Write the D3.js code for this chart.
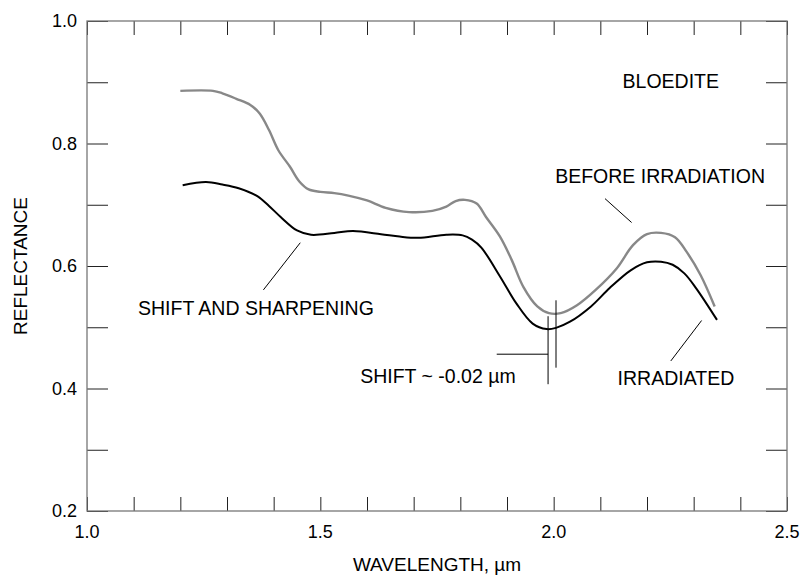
<!DOCTYPE html>
<html>
<head>
<script src="https://d3js.org/d3.v7.min.js"></script>
<style>
  body { margin: 0; background: #fff; }
  text { font-family: "Liberation Sans", Arial, Helvetica, sans-serif; fill: #000; }
</style>
</head>
<body>
<div id="chartContainer"></div>
<script>
// wavelength (um) and reflectance
var beforeWave = [1.20,1.27,1.29,1.32,1.35,1.37,1.39,1.41,1.435,1.455,1.475,1.50,1.53,1.56,1.60,1.64,1.69,1.74,1.77,1.79,1.81,1.835,1.855,1.885,1.91,1.935,1.965,1.99,2.015,2.05,2.09,2.135,2.17,2.20,2.23,2.26,2.285,2.315,2.345];
var beforeRefl = [0.886,0.886,0.882,0.873,0.863,0.849,0.822,0.789,0.762,0.738,0.725,0.721,0.719,0.715,0.707,0.695,0.688,0.690,0.697,0.706,0.708,0.702,0.680,0.648,0.610,0.566,0.534,0.523,0.523,0.536,0.561,0.596,0.634,0.652,0.654,0.647,0.623,0.585,0.534];

var irrWave = [1.205,1.255,1.29,1.325,1.365,1.39,1.415,1.45,1.48,1.53,1.57,1.63,1.67,1.71,1.77,1.805,1.825,1.845,1.885,1.92,1.955,1.985,2.005,2.035,2.08,2.12,2.165,2.20,2.23,2.255,2.28,2.305,2.35];
var irrRefl = [0.732,0.737,0.733,0.727,0.714,0.698,0.680,0.658,0.651,0.654,0.657,0.652,0.648,0.646,0.651,0.650,0.643,0.630,0.583,0.539,0.506,0.497,0.499,0.509,0.534,0.564,0.593,0.606,0.607,0.602,0.588,0.564,0.512];

var xLabels = [1.0, 1.5, 2.0, 2.5];
var yLabels = [0.2, 0.4, 0.6, 0.8, 1.0];

var W = 804, H = 586;
var margin = {left: 87, top: 21, right: 17, bottom: 75};
var w = W - margin.left - margin.right, h = H - margin.top - margin.bottom;

var svg = d3.select("#chartContainer").append("svg")
    .attr("width", W).attr("height", H);
var g = svg.append("g").attr("transform", "translate(" + margin.left + "," + margin.top + ")");

var x = d3.scaleLinear().domain([1.0, 2.5]).range([0, w]);
var y = d3.scaleLinear().domain([0.2, 1.0]).range([h, 0]);

// tick marks on all four sides, pointing inward
var xt = d3.range(1.0, 2.5001, 0.1);
var yt = d3.range(0.2, 1.0001, 0.1);
function inTicks(axis, len) {
  return axis.tickSizeInner(-len).tickSizeOuter(0).tickFormat("");
}
g.append("g").attr("transform", "translate(0," + h + ")").call(inTicks(d3.axisBottom(x).tickValues(xt), 14));
g.append("g").call(inTicks(d3.axisTop(x).tickValues(xt), 14));
g.append("g").call(inTicks(d3.axisLeft(y).tickValues(yt), 21));
g.append("g").attr("transform", "translate(" + w + ",0)").call(inTicks(d3.axisRight(y).tickValues(yt), 21));
g.selectAll(".domain").remove();
g.selectAll(".tick line").attr("stroke", "#222");

g.append("rect").attr("width", w).attr("height", h)
  .attr("fill", "none").attr("stroke", "#777").attr("stroke-width", 1.3);

// tick labels
g.selectAll(".xl").data(xLabels).enter().append("text")
  .attr("x", d => x(d)).attr("y", h + 27)
  .attr("text-anchor", "middle").style("font-size", "18px")
  .text(d => d.toFixed(1));
g.selectAll(".yl").data(yLabels).enter().append("text")
  .attr("x", -10).attr("y", d => y(d) + 6)
  .attr("text-anchor", "end").style("font-size", "18px")
  .text(d => d.toFixed(1));

// axis titles
svg.append("text").attr("x", margin.left + w / 2).attr("y", 571)
  .attr("text-anchor", "middle").style("font-size", "19px")
  .text("WAVELENGTH, \u00b5m");
svg.append("text").attr("transform", "translate(27," + (margin.top + h / 2) + ") rotate(-90)")
  .attr("text-anchor", "middle").style("font-size", "19px")
  .text("REFLECTANCE");

// spectra
var line = d3.line().x(d => x(d[0])).y(d => y(d[1])).curve(d3.curveCatmullRom);
g.append("path").datum(d3.zip(beforeWave, beforeRefl))
  .attr("d", line).attr("fill", "none").attr("stroke", "#888").attr("stroke-width", 2.4);
g.append("path").datum(d3.zip(irrWave, irrRefl))
  .attr("d", line).attr("fill", "none").attr("stroke", "#000").attr("stroke-width", 2);

// annotations
function label(t, wx, ry, anchor) {
  g.append("text").attr("x", x(wx)).attr("y", y(ry))
    .attr("text-anchor", anchor || "middle").style("font-size", "19.5px").text(t);
}
function seg(x1, y1, x2, y2) {
  g.append("line").attr("x1", x(x1)).attr("y1", y(y1)).attr("x2", x(x2)).attr("y2", y(y2))
    .attr("stroke", "#000").attr("stroke-width", 1);
}
label("BLOEDITE", 2.251, 0.890);
label("BEFORE IRRADIATION", 2.228, 0.735);
seg(2.110, 0.710, 2.167, 0.671);
label("IRRADIATED", 2.262, 0.405);
seg(2.317, 0.511, 2.251, 0.445);
label("SHIFT AND SHARPENING", 1.362, 0.520);
seg(1.457, 0.638, 1.378, 0.561);
label("SHIFT ~ -0.02 \u00b5m", 1.752, 0.409);
seg(1.878, 0.456, 1.988, 0.456);
seg(1.988, 0.518, 1.988, 0.407);
seg(2.005, 0.544, 2.005, 0.434);
</script>
</body>
</html>
